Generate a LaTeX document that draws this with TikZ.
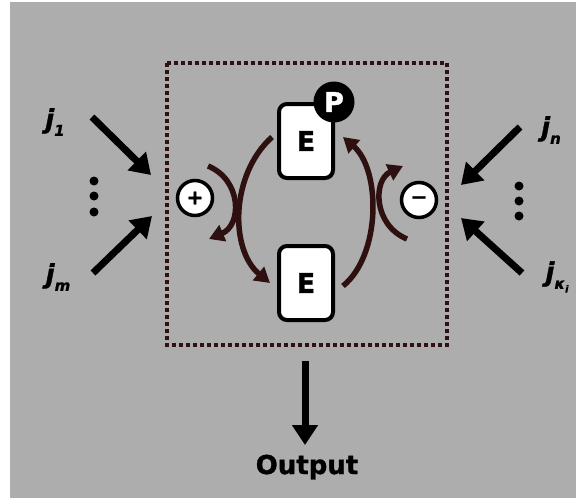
\documentclass[tikz,border=0pt]{standalone}
\usepackage{fontspec}
\setmainfont{DejaVu Sans}[BoldFeatures={FakeBold=1.2},BoldItalicFeatures={FakeBold=1.2}]
\usetikzlibrary{arrows.meta}
\definecolor{bg}{HTML}{ADADAD}
\definecolor{arcc}{HTML}{2E1010}
\definecolor{boxc}{HTML}{2E1212}
\begin{document}
\begin{tikzpicture}[x=1pt,y=-1pt,
  ebox/.style={draw=black,line width=4pt,fill=white,rounded corners=8pt,minimum width=54pt,minimum height=74pt,inner sep=0pt,font=\fontsize{27}{27}\selectfont\bfseries},
  signc/.style={circle,draw=black,line width=3.5pt,fill=white,minimum size=35pt,inner sep=0pt,font=\fontsize{20}{20}\selectfont\bfseries},
  pcirc/.style={circle,fill=black,text=white,minimum size=41pt,inner sep=0pt,font=\fontsize{27}{27}\selectfont\bfseries},
  inarrow/.style={draw=black,line width=7pt,-{Triangle[length=20pt,width=25pt]}},
  arcarrow/.style={draw=arcc,line width=5.5pt,-{Triangle[length=15pt,width=17pt]}},
  jlabel/.style={font=\fontsize{26}{26}\selectfont\bfseries\itshape,inner sep=0pt},
  vdot/.style={circle,fill=black,minimum size=9pt,inner sep=0pt},
  frame/.style={draw=boxc,line width=4pt,dash pattern=on 4pt off 3pt}
]
\useasboundingbox (0,0) rectangle (576,498);
\fill[white] (0,0) rectangle (576,498);
\fill[bg] (10,2) rectangle (576,498);

% dotted frame
\draw[frame] (167,63) rectangle (447,345);

% enzyme boxes
\node[ebox] (Etop) at (306,141) {E};
\node[ebox] (Ebot) at (306,283) {E};
\node[pcirc] (P) at (334,102) {P};

% signs
\node[signc] (plus) at (195,198) {+};
\node[signc] (minus) at (419,200) {−};

% cycle arcs
\draw[arcarrow] ([xshift=-5pt,yshift=4pt]Etop.west) .. controls (230,175) and (230,250) .. ([xshift=-7pt]Ebot.west);
\draw[arcarrow] ([xshift=8pt,yshift=-3pt]Ebot.east) .. controls (381,255) and (381,170) .. ([xshift=8pt,yshift=4pt]Etop.east);
% modulating arcs
\coordinate (ps) at (208,166);
\coordinate (pe) at (209,239);
\coordinate (ms) at (407,239);
\coordinate (me) at (403,166);
\draw[arcarrow] (ps) .. controls (242,180) and (242,225) .. (pe);
\draw[arcarrow] (ms) .. controls (373,225) and (373,180) .. (me);

% inputs left
\node[jlabel] (j1) at (55,122) {j\raisebox{-0.3em}{\fontsize{15}{15}\selectfont 1}};
\node[jlabel] (jm) at (58,277) {j\raisebox{-0.3em}{\fontsize{15}{15}\selectfont m}};
\coordinate (a1s) at (92,117);
\coordinate (a1e) at (151,175);
\coordinate (ams) at (93,273);
\coordinate (ame) at (152,216);
\draw[inarrow] (a1s) -- (a1e);
\draw[inarrow] (ams) -- (ame);
\node[vdot] (l1) at (94,181) {};
\node[vdot] (l2) at (94,196) {};
\node[vdot] (l3) at (94,212) {};

% inputs right
\node[jlabel] (jn) at (551,130) {j\raisebox{-0.3em}{\fontsize{15}{15}\selectfont n}};
\node[jlabel] (jk) at (557,277) {j\raisebox{-0.3em}{\fontsize{15}{15}\selectfont κ\raisebox{-0.25em}{\fontsize{10}{10}\selectfont i}}};
\coordinate (ans) at (520,127);
\coordinate (ane) at (461,185);
\coordinate (aks) at (522,273);
\coordinate (ake) at (461,218);
\draw[inarrow] (ans) -- (ane);
\draw[inarrow] (aks) -- (ake);
\node[vdot] (r1) at (519,186) {};
\node[vdot] (r2) at (519,201) {};
\node[vdot] (r3) at (519,216) {};

% output
\node[font=\fontsize{26}{26}\selectfont\bfseries,inner sep=0pt,anchor=base] (out) at (307,474) {Output};
\coordinate (os) at (305,361);
\coordinate (oe) at (305,445);
\draw[inarrow] (os) -- (oe);
\end{tikzpicture}
\end{document}
